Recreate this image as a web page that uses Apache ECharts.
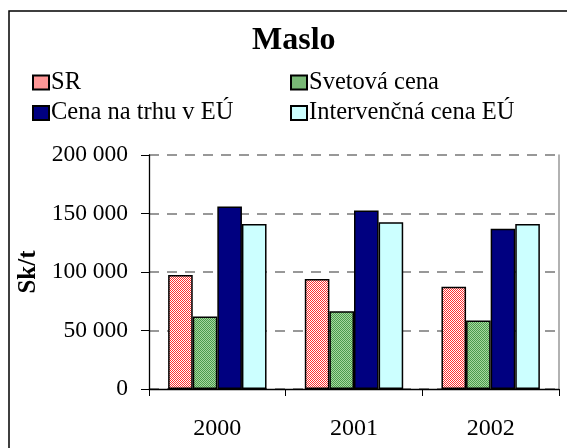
<!DOCTYPE html>
<html>
<head>
<meta charset="utf-8">
<script src="https://cdn.jsdelivr.net/npm/echarts@6/dist/echarts.min.js"></script>
<style>
  html, body { margin: 0; padding: 0; background: #fff; }
  #chart { width: 567px; height: 448px; }
</style>
</head>
<body>
<div id="chart"></div>
<script>
// data
const years = ['2000', '2001', '2002']
const seriesNames = ['SR', 'Svetová cena', 'Cena na trhu v EÚ', 'Intervenčná cena EÚ']
const srValues = [97500, 94000, 87500]
const worldValues = [62000, 66500, 58500]
const euMarketValues = [156000, 152500, 137000]
const interventionValues = [141000, 142500, 141000]
const yTicks = [0, 50000, 100000, 150000, 200000]

// small tiled patterns like the old office fills
function makePattern(bg, fg, cells) {
  const c = document.createElement('canvas')
  c.width = 4
  c.height = 4
  const ctx = c.getContext('2d')
  ctx.fillStyle = bg
  ctx.fillRect(0, 0, 4, 4)
  ctx.fillStyle = fg
  cells.forEach(p => ctx.fillRect(p[0], p[1], 1, 1))
  return { image: c, repeat: 'repeat' }
}

// red diagonal hatch, fairly dense
const srFill = makePattern('#ffffff', '#ff3030', [
  [0, 0], [1, 1], [2, 2], [3, 3], [2, 0], [3, 1], [0, 2], [1, 3]
])
// green fine check
const worldFill = makePattern('#a6d8a0', '#4c9a4c', [
  [0, 0], [2, 0], [1, 1], [3, 1], [0, 2], [2, 2], [1, 3], [3, 3]
])

const fmt = v => String(v).replace(/\B(?=(\d{3})+(?!\d))/g, ' ')

const chart = echarts.init(document.getElementById('chart'), null, { renderer: 'canvas' })

const serif = '"Liberation Serif", "DejaVu Serif", serif'
const border = { borderColor: '#000', borderWidth: 1.5 }

const legendBase = {
  orient: 'vertical',
  top: 65,
  itemWidth: 16,
  itemHeight: 14,
  itemGap: 5.5,
  icon: 'rect',
  textStyle: { fontFamily: serif, fontSize: 24.5, lineHeight: 25, color: '#000', padding: [0, 0, 0, -3] }
}

chart.setOption({
  animation: false,
  backgroundColor: '#fff',
  title: {
    text: 'Maslo',
    left: 247,
    top: 20,
    textStyle: { fontFamily: serif, fontWeight: 'bold', fontSize: 32, color: '#000' }
  },
  legend: [
    Object.assign({ data: [seriesNames[0], seriesNames[2]], left: 27 }, legendBase),
    Object.assign({ data: [seriesNames[1], seriesNames[3]], left: 285 }, legendBase)
  ],
  grid: { left: 149, right: 8, top: 155, bottom: 59 },
  xAxis: {
    type: 'category',
    data: years,
    axisLine: { lineStyle: { color: '#000', width: 1.3 } },
    axisTick: { show: true, length: 7, lineStyle: { color: '#000' } },
    axisLabel: { fontFamily: serif, fontSize: 24, color: '#000', margin: 28 },
    splitLine: { show: false }
  },
  yAxis: [
    {
      type: 'value',
      min: yTicks[0],
      max: yTicks[yTicks.length - 1],
      interval: yTicks[1] - yTicks[0],
      name: 'Sk/t',
      nameLocation: 'middle',
      nameGap: 106,
      nameTextStyle: { fontFamily: serif, fontWeight: 'bold', fontSize: 25, color: '#000' },
      axisLine: { show: true, lineStyle: { color: '#000', width: 1.3 } },
      axisTick: { show: true, length: 8, lineStyle: { color: '#000' } },
      axisLabel: { fontFamily: serif, fontSize: 23.5, color: '#000', margin: 21, formatter: fmt },
      splitLine: { show: true, lineStyle: { color: '#777', type: [10, 8], width: 1.5 } }
    },
    {
      type: 'value',
      position: 'right',
      min: yTicks[0],
      max: yTicks[yTicks.length - 1],
      interval: yTicks[1] - yTicks[0],
      axisLine: { show: true, lineStyle: { color: '#999', width: 1.5 } },
      axisTick: { show: false },
      axisLabel: { show: false },
      splitLine: { show: false }
    }
  ],
  series: [
    {
      name: seriesNames[0], type: 'bar', data: srValues,
      barGap: '0%', barCategoryGap: '28%',
      itemStyle: Object.assign({ color: srFill }, border)
    },
    {
      name: seriesNames[1], type: 'bar', data: worldValues,
      itemStyle: Object.assign({ color: worldFill }, border)
    },
    {
      name: seriesNames[2], type: 'bar', data: euMarketValues,
      itemStyle: Object.assign({ color: '#000080' }, border)
    },
    {
      name: seriesNames[3], type: 'bar', data: interventionValues,
      itemStyle: Object.assign({ color: '#ccffff' }, border)
    }
  ],
  graphic: [
    {
      type: 'rect',
      silent: true,
      shape: { x: 9, y: 11, width: 620, height: 500 },
      style: { fill: 'none', stroke: '#000', lineWidth: 1.5 }
    }
  ]
})
</script>
</body>
</html>
